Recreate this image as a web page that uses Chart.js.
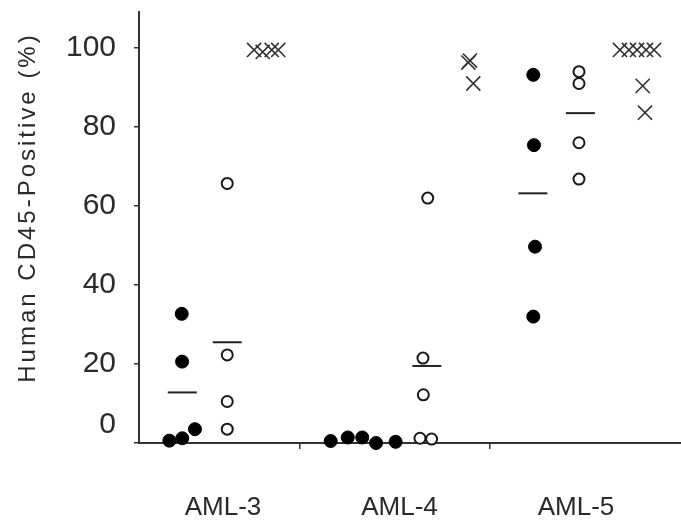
<!DOCTYPE html>
<html>
<head>
<meta charset="utf-8">
<script src="https://cdn.jsdelivr.net/npm/chart.js@4/dist/chart.umd.min.js"></script>
<style>
  html, body { margin: 0; padding: 0; background: #fff; }
  #wrap { width: 681px; height: 529px; }
</style>
</head>
<body>
<div id="wrap"><canvas id="c" width="681" height="529"></canvas></div>
<script>
// ---- Data ----
const categories = ['AML-3', 'AML-4', 'AML-5'];
const categoryPos = [0, 1, 2];
const dividerPos = [0.436, 1.513];
const yTickValues = [0, 20, 40, 60, 80, 100];

// Filled circles
const filledX = [-0.234, -0.232, -0.304, -0.231, -0.159, 0.610, 0.707, 0.789, 0.867, 0.978, 1.758, 1.762, 1.768, 1.758];
const filledY = [32.7, 20.6, 0.6, 1.2, 3.5, 0.5, 1.4, 1.4, 0, 0.3, 93.2, 75.4, 49.7, 32];

// Open circles
const openX = [0.024, 0.024, 0.024, 0.024, 1.160, 1.133, 1.135, 1.116, 1.182, 2.017, 2.017, 2.017, 2.017];
const openY = [65.7, 22.3, 10.5, 3.5, 62, 21.5, 12.2, 1.2, 1.0, 94, 91, 76, 66.8];

// Crosses
const crossX = [0.176, 0.225, 0.276, 0.313, 1.390, 1.399, 1.418, 2.249, 2.300, 2.346, 2.397, 2.442, 2.378, 2.391];
const crossY = [99.5, 99, 99.5, 99.5, 96.3, 96.8, 91, 99.5, 99.5, 99.5, 99.5, 99.5, 90.4, 83.6];

// Mean bars
const meanFilledX = [-0.231, 1.756];
const meanFilledY = [12.8, 63.2];
const meanOpenX = [0.024, 1.155, 2.025];
const meanOpenY = [25.5, 19.5, 83.5];

const pts = (xs, ys) => xs.map((x, i) => ({ x: x, y: ys[i] }));

const noPad = (scale) => {
  scale.paddingTop = 0; scale.paddingBottom = 0;
  scale.paddingLeft = 0; scale.paddingRight = 0;
};

const titleSpacing = {
  id: 'titleSpacing',
  beforeDraw(chart) {
    const s = chart.scales.y;
    if (s && !s._spacedTitle) {
      const orig = s.drawTitle.bind(s);
      s.drawTitle = function () {
        const ctx = this.ctx;
        ctx.save();
        ctx.letterSpacing = '3px';
        ctx.translate(0, -20);
        orig();
        ctx.restore();
      };
      s._spacedTitle = true;
    }
  }
};

new Chart(document.getElementById('c'), {
  type: 'scatter',
  data: {
    datasets: [
      {
        data: pts(filledX, filledY),
        pointStyle: 'circle', pointRadius: 6.5, borderWidth: 1,
        backgroundColor: '#000', borderColor: '#000', clip: false
      },
      {
        data: pts(openX, openY),
        pointStyle: 'circle', pointRadius: 5.5, borderWidth: 2,
        backgroundColor: '#fff', borderColor: '#1a1a1a', clip: false
      },
      {
        data: pts(crossX, crossY),
        pointStyle: 'crossRot', pointRadius: 10, borderWidth: 1.6,
        borderColor: '#333', clip: false
      },
      {
        data: pts(meanFilledX, meanFilledY),
        pointStyle: 'line', pointRadius: 14.5, borderWidth: 2,
        borderColor: '#222', clip: false
      },
      {
        data: pts(meanOpenX, meanOpenY),
        pointStyle: 'line', pointRadius: 14.5, borderWidth: 2,
        borderColor: '#222', clip: false
      }
    ]
  },
  options: {
    responsive: false,
    animation: false,
    events: [],
    layout: { autoPadding: false, padding: { top: 12, right: 0, bottom: 0, left: 0 } },
    plugins: { legend: { display: false }, tooltip: { enabled: false } },
    scales: {
      x: {
        type: 'linear',
        min: -0.476,
        max: 2.595,
        afterBuildTicks(scale) {
          const vals = categoryPos.concat(dividerPos).sort((a, b) => a - b);
          scale.ticks = vals.map(v => ({ value: v }));
        },
        afterFit(scale) { scale.height = 86; noPad(scale); },
        ticks: {
          autoSkip: false, maxRotation: 0, padding: 43,
          color: '#2a2a2a',
          font: { family: '"Liberation Sans", Arial, sans-serif', size: 26 },
          callback(v) {
            const i = categoryPos.indexOf(v);
            return i >= 0 ? categories[i] : '';
          }
        },
        grid: {
          drawOnChartArea: false, drawTicks: true, tickLength: 6, lineWidth: 1.5,
          color: (ctx) => (ctx.tick && categoryPos.indexOf(ctx.tick.value) >= 0) ? 'rgba(0,0,0,0)' : '#333'
        },
        border: { display: true, color: '#333', width: 2 }
      },
      y: {
        type: 'linear',
        min: 0,
        max: 109.1,
        afterBuildTicks(scale) {
          scale.ticks = yTickValues.map(v => ({ value: v }));
        },
        afterFit(scale) { scale.width = 139; noPad(scale); },
        ticks: {
          padding: 18,
          color: '#2a2a2a',
          font: { family: '"Liberation Sans", Arial, sans-serif', size: 30 },
          callback(v) { return v === 0 ? ['0', ''] : String(v); }
        },
        grid: { drawOnChartArea: false, drawTicks: true, tickLength: 5, color: '#333', lineWidth: 1.5 },
        border: { display: true, color: '#333', width: 2 },
        title: {
          display: true,
          text: 'Human CD45-Positive (%)',
          color: '#2a2a2a',
          padding: { top: 14, bottom: 0 },
          font: { family: '"Liberation Sans", Arial, sans-serif', size: 24 }
        }
      }
    }
  },
  plugins: [titleSpacing]
});
</script>
</body>
</html>
